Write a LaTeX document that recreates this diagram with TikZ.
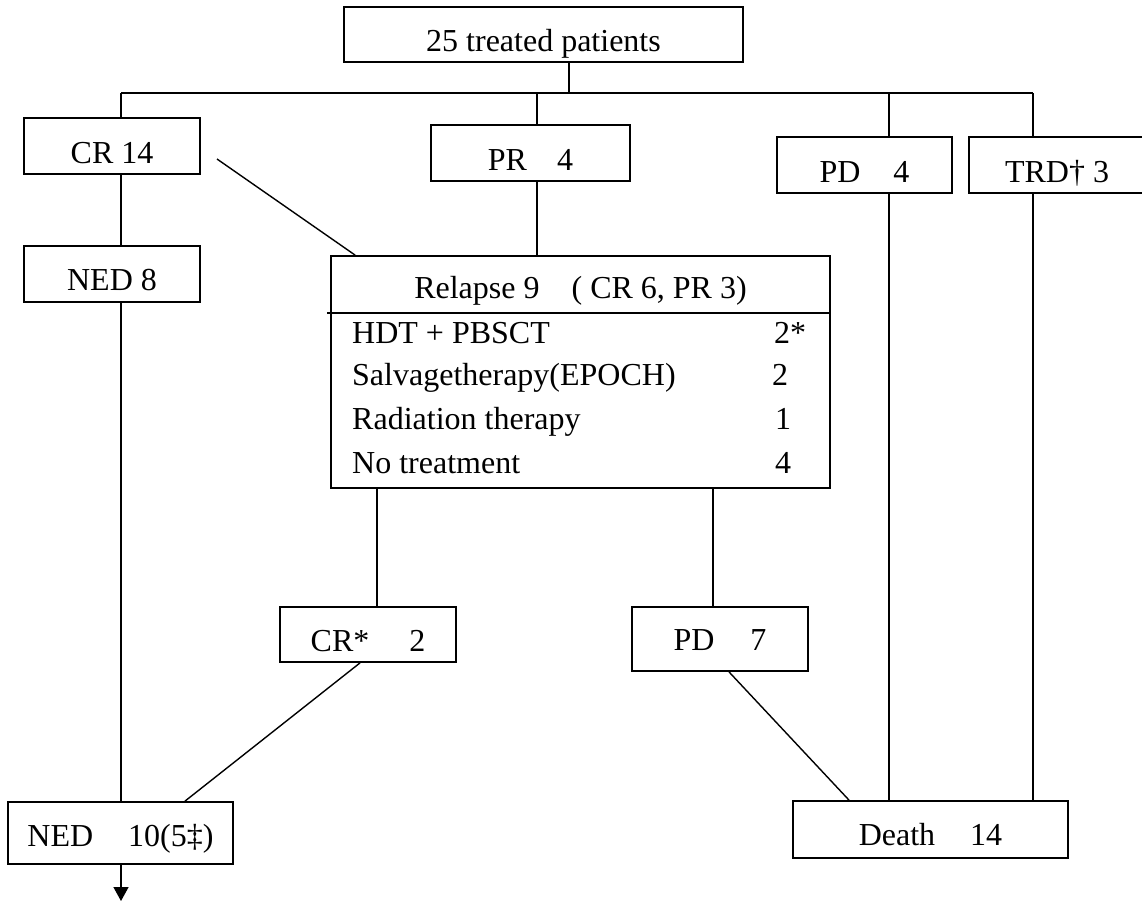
\documentclass[tikz,border=0pt]{standalone}
\usepackage{fontspec}
\setmainfont{Liberation Serif}
\usetikzlibrary{arrows.meta,calc}
\begin{document}
\begin{tikzpicture}[x=1pt,y=-1pt,
  txt/.style={font=\fontsize{32pt}{38pt}\selectfont},
  box/.style={draw, line width=1.8pt, inner sep=0pt, txt, text depth=0pt},
  conn/.style={line width=1.4pt},
  gap/.style={}]
\useasboundingbox (0,0) rectangle (1142,910);
% boxes
\node[box, minimum width=399pt, minimum height=55pt, text height=33pt] (top) at (543.5,34.5) {25 treated patients};
\node[box, minimum width=176pt, minimum height=56pt, text height=34pt] (cr14) at (112,146) {CR 14};
\node[box, minimum width=176pt, minimum height=56pt, text height=32pt] (ned8) at (112,274) {NED 8};
\node[box, minimum width=199pt, minimum height=56pt, text height=34pt] (pr4) at (530.5,153) {PR\hspace{30pt}4\hspace{8pt}};
\node[box, minimum width=175pt, minimum height=56pt, text height=34pt] (pd4) at (864.5,165) {PD\hspace{33pt}4};
\node[box, minimum width=176pt, minimum height=56pt, text height=34pt] (trd) at (1057,165) {TRD\textdagger{} 3};
\node[box, minimum width=499pt, minimum height=232pt] (relapse) at (580.5,372) {};
\node[box, minimum width=176pt, minimum height=55pt, text height=33pt] (crs) at (368,634.5) {CR*\hspace{40pt}2};
\node[box, minimum width=176pt, minimum height=64pt, text height=22pt] (pd7) at (720,639) {PD\hspace{36pt}7};
\node[box, minimum width=225pt, minimum height=62pt, text height=26pt] (ned10) at (120.5,833) {NED\hspace{35pt}10(5\textdaggerdbl)};
\node[box, minimum width=275pt, minimum height=57pt, text height=31pt] (death) at (930.5,829.5) {Death\hspace{35pt}14};
% relapse contents
\node[txt, anchor=base, inner sep=0pt] (rhead) at (580.5,298) {Relapse 9\hspace{32pt}( CR 6, PR 3)};
\node[txt, anchor=base west, inner sep=0pt] (t1) at (352,343) {HDT + PBSCT};
\node[txt, anchor=base west, inner sep=0pt] (t2) at (352,385) {Salvagetherapy(EPOCH)};
\node[txt, anchor=base west, inner sep=0pt] (t3) at (352,429) {Radiation therapy};
\node[txt, anchor=base west, inner sep=0pt] (t4) at (352,473) {No treatment};
\node[txt, anchor=base west, inner sep=0pt] (n1) at (774,343) {2*};
\node[txt, anchor=base west, inner sep=0pt] (n2) at (772,385) {2};
\node[txt, anchor=base west, inner sep=0pt] (n3) at (775,429) {1};
\node[txt, anchor=base west, inner sep=0pt] (n4) at (775,473) {4};
\draw[line width=1.8pt] ($(relapse.north west)+(-3,58)$) -- ($(relapse.north east)+(0,58)$);
% junction coordinates
\coordinate (hl) at (121,93);
\coordinate (hp) at (537,93);
\coordinate (ht) at (569,93);
\coordinate (hpd) at (889,93);
\coordinate (hr) at (1033,93);
\coordinate (c1) at (377,0);
\coordinate (c2) at (713,0);
\coordinate (d1) at (217,159);
\coordinate (arr) at (121,901);
% connectors
\draw[conn] (top.south -| ht) -- (ht);
\draw[conn] (hl) -- (hr);
\draw[conn] (hl) -- (cr14.north -| hl);
\draw[conn] (hp) -- (pr4.north -| hp);
\draw[conn] (hpd) -- (pd4.north -| hpd);
\draw[conn] (hr) -- (trd.north -| hr);
\draw[conn] (cr14.south -| hl) -- (ned8.north -| hl);
\draw[conn] (ned8.south -| hl) -- (ned10.north -| hl);
\draw[conn] (d1) -- ([xshift=25pt]relapse.north west);
\draw[conn] (pr4.south -| hp) -- (relapse.north -| hp);
\draw[conn] (relapse.south -| c1) -- (crs.north -| c1);
\draw[conn] (relapse.south -| c2) -- (pd7.north -| c2);
\draw[conn] ([xshift=-8pt]crs.south) -- ([xshift=64.5pt]ned10.north);
\draw[conn] ([xshift=9pt]pd7.south) -- ([xshift=-81.5pt]death.north);
\draw[conn] (pd4.south -| hpd) -- (death.north -| hpd);
\draw[conn] (trd.south -| hr) -- (death.north -| hr);
\draw[conn, -{Triangle[length=14pt,width=15pt]}] (ned10.south -| hl) -- (arr);
\end{tikzpicture}
\end{document}
